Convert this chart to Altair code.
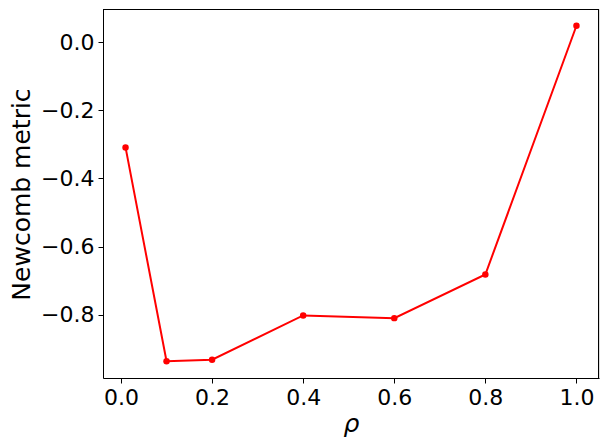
import altair as alt
import pandas as pd

rho = [0.01, 0.1, 0.2, 0.4, 0.6, 0.8, 1.0]
newcomb = [-0.309, -0.9365, -0.932, -0.802, -0.810, -0.682, 0.048]
x_ticks = [0.0, 0.2, 0.4, 0.6, 0.8, 1.0]
y_ticks = [0.0, -0.2, -0.4, -0.6, -0.8]

df = pd.DataFrame({"rho": rho, "newcomb": newcomb})

W, H = 496, 369
FONT = "DejaVu Sans"
x_scale = alt.Scale(domain=[-0.0395, 1.0495], nice=False, zero=False)
y_scale = alt.Scale(domain=[-0.9857, 0.0972], nice=False, zero=False)

x_enc = alt.X(
    "rho:Q", scale=x_scale,
    axis=alt.Axis(
        values=x_ticks, format=".1f", title="ρ", grid=False,
        titleFont=FONT, titleFontSize=25, titleFontStyle="italic", titleFontWeight="normal",
        titleColor="black", titleX=248, titleY=53, titleBaseline="alphabetic", titleAlign="center",
        labelFont=FONT, labelFontSize=22, labelColor="black", labelPadding=4,
        tickSize=5, tickColor="black", domainColor="black", labelFlush=False,
    ),
)
y_enc = alt.Y(
    "newcomb:Q", scale=y_scale,
    axis=alt.Axis(
        values=y_ticks, format=".1f", title="Newcomb metric", grid=False,
        titleFont=FONT, titleFontSize=25, titleFontWeight="normal", titleColor="black",
        titleAngle=-90, titleX=-74, titleY=185, titleBaseline="alphabetic", titleAlign="center",
        labelFont=FONT, labelFontSize=22, labelColor="black", labelPadding=4,
        tickSize=5, tickColor="black", domainColor="black", labelFlush=False,
    ),
)

line = alt.Chart(df).mark_line(color="red", strokeWidth=2).encode(x=x_enc, y=y_enc)
pts = alt.Chart(df).mark_point(color="red", filled=True, size=42, opacity=1).encode(x=x_enc, y=y_enc)

top_edge = alt.Chart().mark_rule(color="black", strokeWidth=1).encode(
    x=alt.value(0), x2=alt.value(W), y=alt.value(0.5)
)
right_edge = alt.Chart().mark_rule(color="black", strokeWidth=1).encode(
    x=alt.value(W - 0.5), y=alt.value(0), y2=alt.value(H)
)

chart = (
    alt.layer(line, pts, top_edge, right_edge)
    .properties(
        width=W, height=H,
        autosize=alt.AutoSizeParams(type="none"),
        padding={"left": 95, "top": 1, "right": 2, "bottom": 60},
    )
    .configure_view(stroke=None)
    .configure(background="white")
)

chart.save("out.html", embed_options={"renderer": "svg", "actions": False})
